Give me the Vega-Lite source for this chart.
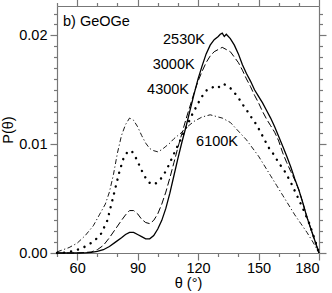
{
  "$schema": "https://vega.github.io/schema/vega-lite/v6.json",
  "width": 262,
  "height": 247,
  "autosize": {"type": "none"},
  "padding": {"left": 57, "top": 6, "right": 13, "bottom": 40},
  "config": {
    "view": {"stroke": null},
    "font": "Liberation Sans",
    "axis": {
      "grid": false,
      "domainColor": "#777777",
      "domainWidth": 1.2,
      "tickColor": "#777777",
      "tickWidth": 1.2,
      "labelFont": "Liberation Sans",
      "labelFontSize": 14.5,
      "labelColor": "#000000",
      "titleFont": "Liberation Sans",
      "titleFontSize": 14.5,
      "titleFontWeight": "normal",
      "titleColor": "#000000"
    }
  },
  "datasets": {
    "curves": [
      {"T": "2530K", "theta": 50, "p": 0}, {"T": "2530K", "theta": 60, "p": 0}, {"T": "2530K", "theta": 64, "p": 0.00002}, {"T": "2530K", "theta": 67, "p": 0.00006}, {"T": "2530K", "theta": 70, "p": 0.00015}, {"T": "2530K", "theta": 73, "p": 0.0003}, {"T": "2530K", "theta": 76, "p": 0.0006}, {"T": "2530K", "theta": 79, "p": 0.001}, {"T": "2530K", "theta": 82, "p": 0.0014}, {"T": "2530K", "theta": 84, "p": 0.0017}, {"T": "2530K", "theta": 86, "p": 0.0019}, {"T": "2530K", "theta": 88, "p": 0.0019}, {"T": "2530K", "theta": 90, "p": 0.0017}, {"T": "2530K", "theta": 92, "p": 0.0015}, {"T": "2530K", "theta": 94, "p": 0.0013}, {"T": "2530K", "theta": 96, "p": 0.0013}, {"T": "2530K", "theta": 98, "p": 0.0016}, {"T": "2530K", "theta": 100, "p": 0.0022}, {"T": "2530K", "theta": 102, "p": 0.003}, {"T": "2530K", "theta": 104, "p": 0.0041}, {"T": "2530K", "theta": 106, "p": 0.0055}, {"T": "2530K", "theta": 108, "p": 0.0071}, {"T": "2530K", "theta": 110, "p": 0.0087}, {"T": "2530K", "theta": 112, "p": 0.0102}, {"T": "2530K", "theta": 114, "p": 0.0116}, {"T": "2530K", "theta": 116, "p": 0.0131}, {"T": "2530K", "theta": 118, "p": 0.0146}, {"T": "2530K", "theta": 120, "p": 0.016}, {"T": "2530K", "theta": 122, "p": 0.0172}, {"T": "2530K", "theta": 124, "p": 0.0183}, {"T": "2530K", "theta": 126, "p": 0.0191}, {"T": "2530K", "theta": 128, "p": 0.0196}, {"T": "2530K", "theta": 130, "p": 0.0199}, {"T": "2530K", "theta": 131, "p": 0.0201}, {"T": "2530K", "theta": 132, "p": 0.0202}, {"T": "2530K", "theta": 133, "p": 0.0199}, {"T": "2530K", "theta": 134, "p": 0.0201}, {"T": "2530K", "theta": 136, "p": 0.0197}, {"T": "2530K", "theta": 138, "p": 0.0191}, {"T": "2530K", "theta": 140, "p": 0.0183}, {"T": "2530K", "theta": 142, "p": 0.0173}, {"T": "2530K", "theta": 144, "p": 0.0165}, {"T": "2530K", "theta": 146, "p": 0.0158}, {"T": "2530K", "theta": 148, "p": 0.015}, {"T": "2530K", "theta": 150, "p": 0.0144}, {"T": "2530K", "theta": 152, "p": 0.0138}, {"T": "2530K", "theta": 154, "p": 0.0131}, {"T": "2530K", "theta": 156, "p": 0.0124}, {"T": "2530K", "theta": 158, "p": 0.0116}, {"T": "2530K", "theta": 160, "p": 0.0107}, {"T": "2530K", "theta": 162, "p": 0.0098}, {"T": "2530K", "theta": 164, "p": 0.0089}, {"T": "2530K", "theta": 166, "p": 0.0079}, {"T": "2530K", "theta": 168, "p": 0.0068}, {"T": "2530K", "theta": 170, "p": 0.0058}, {"T": "2530K", "theta": 172, "p": 0.0046}, {"T": "2530K", "theta": 174, "p": 0.0033}, {"T": "2530K", "theta": 176, "p": 0.0022}, {"T": "2530K", "theta": 178, "p": 0.0011}, {"T": "2530K", "theta": 180, "p": 0},

      {"T": "3000K", "theta": 50, "p": 0}, {"T": "3000K", "theta": 60, "p": 0}, {"T": "3000K", "theta": 64, "p": 0.00005}, {"T": "3000K", "theta": 67, "p": 0.0001}, {"T": "3000K", "theta": 70, "p": 0.0003}, {"T": "3000K", "theta": 73, "p": 0.0007}, {"T": "3000K", "theta": 76, "p": 0.0014}, {"T": "3000K", "theta": 79, "p": 0.0022}, {"T": "3000K", "theta": 82, "p": 0.003}, {"T": "3000K", "theta": 84, "p": 0.0035}, {"T": "3000K", "theta": 86, "p": 0.0039}, {"T": "3000K", "theta": 88, "p": 0.0039}, {"T": "3000K", "theta": 90, "p": 0.0036}, {"T": "3000K", "theta": 92, "p": 0.0031}, {"T": "3000K", "theta": 94, "p": 0.0028}, {"T": "3000K", "theta": 96, "p": 0.0027}, {"T": "3000K", "theta": 98, "p": 0.003}, {"T": "3000K", "theta": 100, "p": 0.0036}, {"T": "3000K", "theta": 102, "p": 0.0045}, {"T": "3000K", "theta": 104, "p": 0.0056}, {"T": "3000K", "theta": 106, "p": 0.0069}, {"T": "3000K", "theta": 108, "p": 0.0083}, {"T": "3000K", "theta": 110, "p": 0.0097}, {"T": "3000K", "theta": 112, "p": 0.011}, {"T": "3000K", "theta": 114, "p": 0.0123}, {"T": "3000K", "theta": 116, "p": 0.0135}, {"T": "3000K", "theta": 118, "p": 0.0147}, {"T": "3000K", "theta": 120, "p": 0.0158}, {"T": "3000K", "theta": 122, "p": 0.0167}, {"T": "3000K", "theta": 124, "p": 0.0175}, {"T": "3000K", "theta": 126, "p": 0.0181}, {"T": "3000K", "theta": 128, "p": 0.0185}, {"T": "3000K", "theta": 130, "p": 0.0187}, {"T": "3000K", "theta": 132, "p": 0.0189}, {"T": "3000K", "theta": 134, "p": 0.0187}, {"T": "3000K", "theta": 136, "p": 0.0185}, {"T": "3000K", "theta": 138, "p": 0.018}, {"T": "3000K", "theta": 140, "p": 0.0175}, {"T": "3000K", "theta": 142, "p": 0.0168}, {"T": "3000K", "theta": 144, "p": 0.016}, {"T": "3000K", "theta": 146, "p": 0.0153}, {"T": "3000K", "theta": 148, "p": 0.0145}, {"T": "3000K", "theta": 150, "p": 0.0138}, {"T": "3000K", "theta": 152, "p": 0.013}, {"T": "3000K", "theta": 154, "p": 0.0123}, {"T": "3000K", "theta": 156, "p": 0.0117}, {"T": "3000K", "theta": 158, "p": 0.0111}, {"T": "3000K", "theta": 160, "p": 0.0103}, {"T": "3000K", "theta": 162, "p": 0.0092}, {"T": "3000K", "theta": 164, "p": 0.0083}, {"T": "3000K", "theta": 166, "p": 0.0075}, {"T": "3000K", "theta": 168, "p": 0.0067}, {"T": "3000K", "theta": 170, "p": 0.0058}, {"T": "3000K", "theta": 172, "p": 0.0046}, {"T": "3000K", "theta": 174, "p": 0.0033}, {"T": "3000K", "theta": 176, "p": 0.0022}, {"T": "3000K", "theta": 178, "p": 0.0011}, {"T": "3000K", "theta": 180, "p": 0},

      {"T": "4300K", "theta": 50, "p": 0}, {"T": "4300K", "theta": 55, "p": 0.00005}, {"T": "4300K", "theta": 58, "p": 0.0002}, {"T": "4300K", "theta": 62, "p": 0.0004}, {"T": "4300K", "theta": 66, "p": 0.0008}, {"T": "4300K", "theta": 69, "p": 0.0012}, {"T": "4300K", "theta": 72, "p": 0.0018}, {"T": "4300K", "theta": 75, "p": 0.003}, {"T": "4300K", "theta": 77, "p": 0.0045}, {"T": "4300K", "theta": 79, "p": 0.006}, {"T": "4300K", "theta": 81, "p": 0.0075}, {"T": "4300K", "theta": 83, "p": 0.0087}, {"T": "4300K", "theta": 85, "p": 0.0093}, {"T": "4300K", "theta": 87, "p": 0.0094}, {"T": "4300K", "theta": 89, "p": 0.0088}, {"T": "4300K", "theta": 91, "p": 0.008}, {"T": "4300K", "theta": 93, "p": 0.0072}, {"T": "4300K", "theta": 95, "p": 0.0066}, {"T": "4300K", "theta": 97, "p": 0.0063}, {"T": "4300K", "theta": 99, "p": 0.0064}, {"T": "4300K", "theta": 101, "p": 0.0067}, {"T": "4300K", "theta": 103, "p": 0.0072}, {"T": "4300K", "theta": 105, "p": 0.0079}, {"T": "4300K", "theta": 107, "p": 0.0087}, {"T": "4300K", "theta": 109, "p": 0.0095}, {"T": "4300K", "theta": 111, "p": 0.0103}, {"T": "4300K", "theta": 113, "p": 0.0111}, {"T": "4300K", "theta": 115, "p": 0.0119}, {"T": "4300K", "theta": 117, "p": 0.0127}, {"T": "4300K", "theta": 119, "p": 0.0134}, {"T": "4300K", "theta": 121, "p": 0.0141}, {"T": "4300K", "theta": 123, "p": 0.0147}, {"T": "4300K", "theta": 125, "p": 0.0151}, {"T": "4300K", "theta": 127, "p": 0.0152}, {"T": "4300K", "theta": 129, "p": 0.0154}, {"T": "4300K", "theta": 131, "p": 0.0152}, {"T": "4300K", "theta": 133, "p": 0.0155}, {"T": "4300K", "theta": 135, "p": 0.0153}, {"T": "4300K", "theta": 137, "p": 0.015}, {"T": "4300K", "theta": 139, "p": 0.0145}, {"T": "4300K", "theta": 141, "p": 0.014}, {"T": "4300K", "theta": 143, "p": 0.0134}, {"T": "4300K", "theta": 145, "p": 0.0129}, {"T": "4300K", "theta": 147, "p": 0.0123}, {"T": "4300K", "theta": 149, "p": 0.0118}, {"T": "4300K", "theta": 151, "p": 0.0111}, {"T": "4300K", "theta": 153, "p": 0.0104}, {"T": "4300K", "theta": 155, "p": 0.0097}, {"T": "4300K", "theta": 157, "p": 0.0092}, {"T": "4300K", "theta": 160, "p": 0.0083}, {"T": "4300K", "theta": 163, "p": 0.0075}, {"T": "4300K", "theta": 166, "p": 0.0065}, {"T": "4300K", "theta": 169, "p": 0.0053}, {"T": "4300K", "theta": 172, "p": 0.0041}, {"T": "4300K", "theta": 175, "p": 0.0028}, {"T": "4300K", "theta": 178, "p": 0.0012}, {"T": "4300K", "theta": 180, "p": 0},

      {"T": "6100K", "theta": 50, "p": 0.0001}, {"T": "6100K", "theta": 53, "p": 0.0003}, {"T": "6100K", "theta": 56, "p": 0.0005}, {"T": "6100K", "theta": 60, "p": 0.0009}, {"T": "6100K", "theta": 64, "p": 0.0016}, {"T": "6100K", "theta": 68, "p": 0.0025}, {"T": "6100K", "theta": 71, "p": 0.0035}, {"T": "6100K", "theta": 74, "p": 0.0045}, {"T": "6100K", "theta": 76, "p": 0.0056}, {"T": "6100K", "theta": 78, "p": 0.0072}, {"T": "6100K", "theta": 80, "p": 0.0092}, {"T": "6100K", "theta": 82, "p": 0.0108}, {"T": "6100K", "theta": 84, "p": 0.0118}, {"T": "6100K", "theta": 86, "p": 0.0124}, {"T": "6100K", "theta": 88, "p": 0.0122}, {"T": "6100K", "theta": 90, "p": 0.0116}, {"T": "6100K", "theta": 92, "p": 0.0108}, {"T": "6100K", "theta": 94, "p": 0.0101}, {"T": "6100K", "theta": 96, "p": 0.0096}, {"T": "6100K", "theta": 98, "p": 0.0094}, {"T": "6100K", "theta": 100, "p": 0.0093}, {"T": "6100K", "theta": 102, "p": 0.0095}, {"T": "6100K", "theta": 104, "p": 0.0098}, {"T": "6100K", "theta": 106, "p": 0.0101}, {"T": "6100K", "theta": 108, "p": 0.0105}, {"T": "6100K", "theta": 110, "p": 0.0108}, {"T": "6100K", "theta": 112, "p": 0.0111}, {"T": "6100K", "theta": 114, "p": 0.0115}, {"T": "6100K", "theta": 116, "p": 0.0118}, {"T": "6100K", "theta": 118, "p": 0.0121}, {"T": "6100K", "theta": 120, "p": 0.0123}, {"T": "6100K", "theta": 122, "p": 0.0125}, {"T": "6100K", "theta": 124, "p": 0.0126}, {"T": "6100K", "theta": 126, "p": 0.0127}, {"T": "6100K", "theta": 128, "p": 0.0126}, {"T": "6100K", "theta": 130, "p": 0.0125}, {"T": "6100K", "theta": 132, "p": 0.0124}, {"T": "6100K", "theta": 134, "p": 0.0122}, {"T": "6100K", "theta": 136, "p": 0.012}, {"T": "6100K", "theta": 138, "p": 0.0116}, {"T": "6100K", "theta": 140, "p": 0.0112}, {"T": "6100K", "theta": 142, "p": 0.0108}, {"T": "6100K", "theta": 144, "p": 0.0104}, {"T": "6100K", "theta": 146, "p": 0.0099}, {"T": "6100K", "theta": 148, "p": 0.0094}, {"T": "6100K", "theta": 150, "p": 0.0089}, {"T": "6100K", "theta": 153, "p": 0.008}, {"T": "6100K", "theta": 156, "p": 0.0071}, {"T": "6100K", "theta": 159, "p": 0.0062}, {"T": "6100K", "theta": 162, "p": 0.0053}, {"T": "6100K", "theta": 165, "p": 0.0044}, {"T": "6100K", "theta": 168, "p": 0.0035}, {"T": "6100K", "theta": 171, "p": 0.0027}, {"T": "6100K", "theta": 174, "p": 0.0019}, {"T": "6100K", "theta": 177, "p": 0.001}, {"T": "6100K", "theta": 180, "p": 0}
    ],
    "labels": [
      {"theta": 53.0, "p": 0.0212, "text": "b) GeOGe"},
      {"theta": 102.6, "p": 0.01954, "text": "2530K"},
      {"theta": 97.5, "p": 0.01725, "text": "3000K"},
      {"theta": 94.7, "p": 0.01495, "text": "4300K"},
      {"theta": 119.0, "p": 0.01018, "text": "6100K"}
    ]
  },
  "layer": [
    {
      "data": {"name": "curves"},
      "transform": [{"filter": "datum.T === '2530K'"}],
      "mark": {"type": "line", "color": "#000000", "strokeWidth": 1.3},
      "encoding": {
        "x": {"field": "theta", "type": "quantitative", "scale": {"domain": [50, 180], "nice": false},
          "axis": {"orient": "bottom", "values": [60, 90, 120, 150, 180], "tickSize": 7, "labelPadding": 1, "title": "θ (°)", "titlePadding": 1.5}},
        "y": {"field": "p", "type": "quantitative", "scale": {"domain": [0, 0.0227], "nice": false, "zero": false},
          "axis": {"orient": "left", "values": [0, 0.01, 0.02], "format": ".2f", "tickSize": 7, "labelPadding": 3, "title": "P(θ)", "titlePadding": 3}}
      }
    },
    {
      "data": {"name": "curves"},
      "transform": [{"filter": "datum.T === '3000K'"}],
      "mark": {"type": "line", "color": "#000000", "strokeWidth": 1, "strokeDash": [7, 3]},
      "encoding": {
        "x": {"field": "theta", "type": "quantitative", "scale": {"domain": [50, 180], "nice": false},
          "axis": {"orient": "bottom", "values": [50, 70, 80, 100, 110, 130, 140, 160, 170], "tickSize": 3.5, "labels": false, "domain": false, "title": null}},
        "y": {"field": "p", "type": "quantitative", "scale": {"domain": [0, 0.0227], "nice": false, "zero": false},
          "axis": {"orient": "left", "values": [0.001, 0.002, 0.003, 0.004, 0.005, 0.006, 0.007, 0.008, 0.009, 0.011, 0.012, 0.013, 0.014, 0.015, 0.016, 0.017, 0.018, 0.019, 0.021, 0.022], "tickSize": 3.5, "labels": false, "domain": false, "title": null}}
      }
    },
    {
      "data": {"name": "curves"},
      "transform": [{"filter": "datum.T === '4300K'"}],
      "mark": {"type": "line", "color": "#000000", "strokeWidth": 2.4, "strokeDash": [0.1, 7], "strokeCap": "round"},
      "encoding": {
        "x": {"field": "theta", "type": "quantitative", "scale": {"domain": [50, 180], "nice": false},
          "axis": {"orient": "top", "values": [60, 90, 120, 150, 180], "tickSize": 7, "labels": false, "title": null}},
        "y": {"field": "p", "type": "quantitative", "scale": {"domain": [0, 0.0227], "nice": false, "zero": false},
          "axis": {"orient": "right", "values": [0, 0.01, 0.02], "tickSize": 7, "labels": false, "title": null}}
      }
    },
    {
      "data": {"name": "curves"},
      "transform": [{"filter": "datum.T === '6100K'"}],
      "mark": {"type": "line", "color": "#000000", "strokeWidth": 0.9, "strokeDash": [5, 2.5, 1.2, 2.5]},
      "encoding": {
        "x": {"field": "theta", "type": "quantitative", "scale": {"domain": [50, 180], "nice": false},
          "axis": {"orient": "top", "values": [50, 70, 80, 100, 110, 130, 140, 160, 170], "tickSize": 3.5, "labels": false, "domain": false, "title": null}},
        "y": {"field": "p", "type": "quantitative", "scale": {"domain": [0, 0.0227], "nice": false, "zero": false},
          "axis": {"orient": "right", "values": [0.001, 0.002, 0.003, 0.004, 0.005, 0.006, 0.007, 0.008, 0.009, 0.011, 0.012, 0.013, 0.014, 0.015, 0.016, 0.017, 0.018, 0.019, 0.021, 0.022], "tickSize": 3.5, "labels": false, "domain": false, "title": null}}
      }
    },
    {
      "data": {"name": "labels"},
      "mark": {"type": "text", "align": "left", "baseline": "middle", "font": "Liberation Sans", "fontSize": 14.5, "color": "#000000"},
      "encoding": {
        "x": {"field": "theta", "type": "quantitative", "scale": {"domain": [50, 180], "nice": false}, "axis": null},
        "y": {"field": "p", "type": "quantitative", "scale": {"domain": [0, 0.0227], "nice": false, "zero": false}, "axis": null},
        "text": {"field": "text"}
      }
    }
  ],
  "resolve": {"axis": {"x": "independent", "y": "independent"}}
}
